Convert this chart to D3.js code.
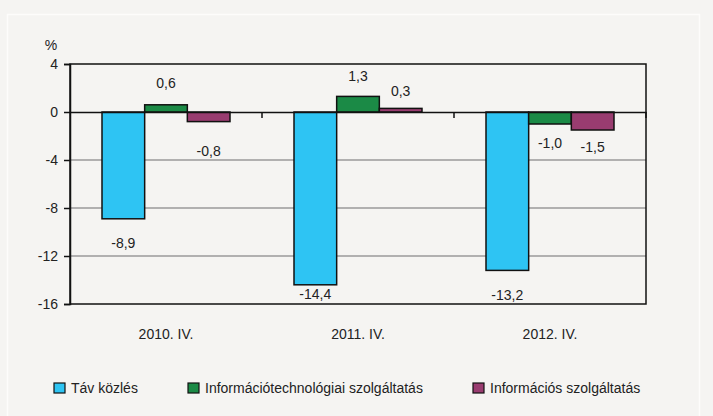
<!DOCTYPE html>
<html>
<head>
<meta charset="utf-8">
<script src="https://cdn.jsdelivr.net/npm/d3@7"></script>
<style>
  body { margin: 0; background: #f5f4f2; }
  svg { display: block; }
</style>
</head>
<body>
<div id="chart"></div>
<script>
// chart data
const categories = ["2010. IV.", "2011. IV.", "2012. IV."]
const seriesNames = ["Táv közlés", "Információtechnológiai szolgáltatás", "Információs szolgáltatás"]
const tavkozles = [-8.9, -14.4, -13.2]
const infotech = [0.6, 1.3, -1.0]
const infoszolg = [-0.8, 0.3, -1.5]
const yTicks = [4, 0, -4, -8, -12, -16]

const colors = ["#2ec4f3", "#1b8a46", "#993c70"]
// label nudges (px from bar end), like the Excel placement
const labelDy = [
    [29, 14, 30],
    [-17, -15, 24],
    [34, -12, 22]
]

const width = 713, height = 416
const margin = {top: 64, right: 67, bottom: 112, left: 70}
const fontFamily = "'Liberation Sans', Arial, sans-serif"
const fontSize = 14

const svg = d3.select("#chart").append("svg")
    .attr("width", width)
    .attr("height", height)
    .attr("font-family", fontFamily)

svg.append("rect")
    .attr("width", width).attr("height", height)
    .attr("fill", "#f5f4f2")

// faint outer frame
svg.append("rect")
    .attr("x", 7.5).attr("y", 14.5)
    .attr("width", 692).attr("height", 420)
    .attr("fill", "none")
    .attr("stroke", "#fdfcfb")
    .attr("stroke-width", 1.5)

const x = d3.scaleBand()
    .domain(categories)
    .range([margin.left, width - margin.right])

const y = d3.scaleLinear()
    .domain([-16, 4])
    .range([height - margin.bottom, margin.top])

const series = [tavkozles, infotech, infoszolg]
const groupW = 128
const barW = groupW / series.length

// gridlines
svg.append("g")
    .selectAll("line")
    .data(yTicks.filter(t => t < 0 && t > -16))
    .join("line")
    .attr("x1", margin.left).attr("x2", width - margin.right)
    .attr("y1", d => y(d)).attr("y2", d => y(d))
    .attr("stroke", "#9a9a9a")
    .attr("stroke-width", 1.5)

// bars
series.forEach((vals, si) => {
    svg.append("g")
        .selectAll("rect")
        .data(vals)
        .join("rect")
        .attr("x", (d, i) => x(categories[i]) + (x.bandwidth() - groupW) / 2 + si * barW)
        .attr("y", d => y(Math.max(0, d)))
        .attr("width", barW)
        .attr("height", d => Math.abs(y(d) - y(0)))
        .attr("fill", colors[si])
        .attr("stroke", "#111")
        .attr("stroke-width", 1.5)
})

// plot frame
svg.append("rect")
    .attr("x", margin.left).attr("y", margin.top)
    .attr("width", width - margin.left - margin.right)
    .attr("height", y(-16) - y(4))
    .attr("fill", "none")
    .attr("stroke", "#111")
    .attr("stroke-width", 1.5)

// zero line + category ticks
const xAxis = svg.append("g")
    .attr("transform", `translate(0,${y(0)})`)
    .call(d3.axisBottom(x).tickSize(0).tickFormat(""))
xAxis.select(".domain").attr("stroke", "#111").attr("stroke-width", 1.5)
xAxis.append("g")
    .selectAll("line")
    .data(categories.slice(1).concat(["end"]))
    .join("line")
    .attr("x1", d => d === "end" ? width - margin.right : x(d))
    .attr("x2", d => d === "end" ? width - margin.right : x(d))
    .attr("y1", 0).attr("y2", 6)
    .attr("stroke", "#111")
    .attr("stroke-width", 1.5)

// y axis
const yAxis = svg.append("g")
    .attr("transform", `translate(${margin.left},0)`)
    .call(d3.axisLeft(y).tickValues(yTicks).tickSize(6).tickPadding(6)
        .tickFormat(d => String(d)))
yAxis.select(".domain").attr("stroke", "#111").attr("stroke-width", 1.5)
yAxis.selectAll(".tick line").attr("stroke", "#111").attr("stroke-width", 1.5)
yAxis.selectAll(".tick text")
    .attr("font-size", fontSize)
    .attr("font-family", fontFamily)
    .attr("fill", "#222")

svg.append("text")
    .attr("x", 51).attr("y", 50)
    .attr("text-anchor", "middle")
    .attr("font-size", fontSize)
    .attr("fill", "#222")
    .text("%")

// category labels
svg.append("g")
    .selectAll("text")
    .data(categories)
    .join("text")
    .attr("x", d => x(d) + x.bandwidth() / 2)
    .attr("y", 339)
    .attr("text-anchor", "middle")
    .attr("font-size", fontSize)
    .attr("fill", "#222")
    .text(d => d)

// value labels
const fmt = v => v.toFixed(1).replace(".", ",")
series.forEach((vals, si) => {
    svg.append("g")
        .selectAll("text")
        .data(vals)
        .join("text")
        .attr("x", (d, i) => x(categories[i]) + (x.bandwidth() - groupW) / 2 + si * barW + barW / 2)
        .attr("y", (d, i) => y(d) + labelDy[si][i])
        .attr("text-anchor", "middle")
        .attr("font-size", fontSize)
        .attr("fill", "#222")
        .text(d => fmt(d))
})

// legend
const legendX = [54, 188, 473]
const legend = svg.append("g")
    .selectAll("g")
    .data(seriesNames)
    .join("g")
    .attr("transform", (d, i) => `translate(${legendX[i]},383)`)
legend.append("rect")
    .attr("width", 11).attr("height", 10)
    .attr("fill", (d, i) => colors[i])
    .attr("stroke", "#111")
    .attr("stroke-width", 1.2)
legend.append("text")
    .attr("x", 17).attr("y", 10)
    .attr("font-size", fontSize)
    .attr("fill", "#222")
    .text(d => d)
</script>
</body>
</html>
